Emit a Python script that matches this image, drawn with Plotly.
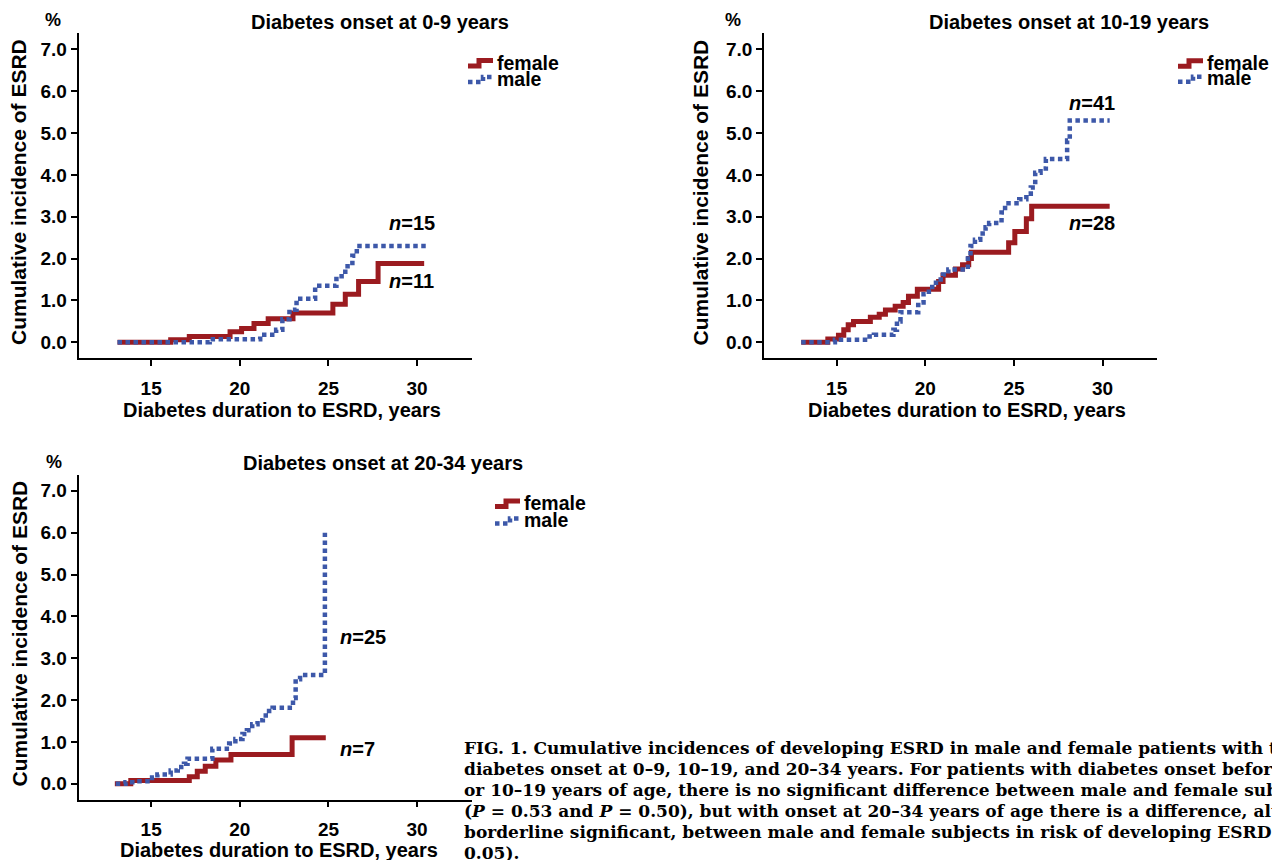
import plotly.graph_objects as go

# ---------------- data ----------------
ticks_x = [15, 20, 25, 30]
ticks_y = [0, 1, 2, 3, 4, 5, 6, 7]
ticks_y_text = ["0.0", "1.0", "2.0", "3.0", "4.0", "5.0", "6.0", "7.0"]

titles = ["Diabetes onset at 0-9 years", "Diabetes onset at 10-19 years", "Diabetes onset at 20-34 years"]
n_female = [11, 28, 7]
n_male = [15, 41, 25]

# onset 0-9 years
f1_x = [13.1, 16.1, 17.15, 19.45, 20.1, 20.8, 21.6, 23.0, 25.25, 25.95, 26.7, 27.8, 30.4]
f1_y = [0.0, 0.06, 0.14, 0.25, 0.33, 0.45, 0.56, 0.70, 0.91, 1.15, 1.45, 1.88, 1.88]
m1_x = [13.1, 18.3, 21.15, 22.05, 22.4, 22.8, 23.2, 24.25, 25.45, 25.95, 26.35, 26.6, 30.6]
m1_y = [0.0, 0.07, 0.18, 0.30, 0.55, 0.78, 1.04, 1.35, 1.58, 1.82, 2.07, 2.30, 2.30]

# onset 10-19 years
f2_x = [13.0, 14.5, 15.1, 15.4, 15.65, 15.95, 16.9, 17.4, 17.75, 18.3, 18.75, 19.05, 19.55,
        20.75, 21.0, 21.7, 22.1, 22.45, 22.6, 24.7, 25.05, 25.7, 26.0, 30.4]
f2_y = [0.0, 0.08, 0.17, 0.30, 0.42, 0.50, 0.60, 0.67, 0.77, 0.86, 0.95, 1.10, 1.27,
        1.45, 1.60, 1.75, 1.85, 2.00, 2.15, 2.38, 2.65, 2.95, 3.25, 3.25]
m2_x = [13.0, 14.9, 16.6, 17.1, 18.2, 18.4, 18.6, 19.6, 19.9, 20.2, 20.6, 21.0, 21.3, 22.4,
        22.55, 22.8, 23.1, 23.4, 23.6, 24.3, 24.5, 25.3, 25.7, 25.95, 26.2, 26.5, 26.8,
        28.0, 28.15, 30.4]
m2_y = [0.0, 0.06, 0.14, 0.18, 0.30, 0.50, 0.72, 0.95, 1.15, 1.32, 1.50, 1.62, 1.74, 2.00,
        2.30, 2.45, 2.60, 2.75, 2.85, 3.10, 3.32, 3.42, 3.55, 3.70, 4.05, 4.15, 4.38,
        4.82, 5.30, 5.30]

# onset 20-34 years
f3_x = [12.95, 13.85, 17.15, 17.6, 18.05, 18.65, 19.5, 22.95, 24.85]
f3_y = [0.0, 0.08, 0.17, 0.30, 0.42, 0.57, 0.70, 1.10, 1.10]
m3_x = [13.0, 13.55, 14.1, 15.05, 15.35, 16.1, 16.5, 16.85, 17.05, 18.45, 19.4, 19.75, 20.15,
        20.4, 20.7, 21.0, 21.3, 21.65, 21.85, 23.0, 23.15, 23.4, 24.8]
m3_y = [0.0, 0.04, 0.06, 0.15, 0.22, 0.32, 0.40, 0.48, 0.60, 0.84, 0.96, 1.07, 1.19,
        1.28, 1.42, 1.52, 1.63, 1.74, 1.82, 2.05, 2.50, 2.60, 6.00]

caption_lines = [
    "FIG. 1. Cumulative incidences of developing ESRD in male and female patients with type 1",
    "diabetes onset at 0\u20139, 10\u201319, and 20\u201334 years. For patients with diabetes onset before age 10",
    "or 10\u201319 years of age, there is no significant difference between male and female subjects",
    "(<i>P</i> = 0.53 and <i>P</i> = 0.50), but with onset at 20\u201334 years of age there is a difference, although",
    "borderline significant, between male and female subjects in risk of developing ESRD (<i>P</i> =",
    "0.05).",
]

# ---------------- styling ----------------
OFF = 8                      # the page body margin shifts the figure by 8 px
W, H = 1280 - OFF, 860 - OFF
FONT = "Liberation Sans, Arial, Helvetica, sans-serif"
SERIF = "DejaVu Serif, serif"
RED = "#9B1B20"
BLUE = "#3D58A9"
XR = [10.9, 33.07]
YR = [-0.375, 7.39]


def pxx(x):
    return (x - OFF) / W


def pxy(y):
    return 1 - (y - OFF) / H


# panel pixel boxes in screen pixels: (left, right, top, bottom)
boxes = [(78.5, 471.5, 33, 358), (764, 1157, 33, 358), (78.5, 471.5, 474.5, 799.5)]

fig = go.Figure()

series = [(f1_x, f1_y, m1_x, m1_y), (f2_x, f2_y, m2_x, m2_y), (f3_x, f3_y, m3_x, m3_y)]
for i, (fx, fy, mx, my) in enumerate(series):
    sfx = "" if i == 0 else str(i + 1)
    fig.add_trace(go.Scatter(x=fx, y=fy, mode="lines", line=dict(color=RED, width=5, shape="hv"),
                             name="female", showlegend=False, xaxis="x" + sfx, yaxis="y" + sfx))
    fig.add_trace(go.Scatter(x=mx, y=my, mode="lines",
                             line=dict(color=BLUE, width=4.5, shape="hv", dash="4.5px,3.5px"),
                             name="male", showlegend=False, xaxis="x" + sfx, yaxis="y" + sfx))

tickfont = dict(family=FONT, size=19, color="black", weight="bold")
layout = dict(width=W, height=H, margin=dict(l=0, r=0, t=0, b=0),
              paper_bgcolor="white", plot_bgcolor="white", showlegend=False)
for i, (l, r, t, b) in enumerate(boxes):
    sfx = "" if i == 0 else str(i + 1)
    layout["xaxis" + sfx] = dict(domain=[pxx(l), pxx(r)], range=XR, anchor="y" + sfx,
                                 tickvals=ticks_x, showline=True, linecolor="black", linewidth=1.5,
                                 ticks="outside", ticklen=6, tickwidth=1.5, tickcolor="black",
                                 showgrid=False, zeroline=False, tickfont=tickfont,
                                 ticklabelstandoff=6)
    layout["yaxis" + sfx] = dict(domain=[pxy(b), pxy(t)], range=YR, anchor="x" + sfx,
                                 tickvals=ticks_y, ticktext=ticks_y_text, showline=True,
                                 linecolor="black", linewidth=1.5, ticks="outside", ticklen=6,
                                 tickwidth=1.5, tickcolor="black", showgrid=False,
                                 zeroline=False, tickfont=tickfont)
fig.update_layout(**layout)

ann = []
shapes = []


def text(x, y, s, size=20, xanchor="center", angle=0, family=FONT, weight="bold"):
    ann.append(dict(x=pxx(x), y=pxy(y), xref="paper", yref="paper", text=s, showarrow=False,
                    xanchor=xanchor, yanchor="middle", textangle=angle,
                    font=dict(family=family, size=size, color="black", weight=weight)))


# panel titles, % signs, axis titles
title_pos = [(380, 22), (1068.5, 22), (383, 463)]
pct_pos = [(52.7, 20), (733, 20), (53.5, 462)]
ytitle_pos = [(18.5, 192.5), (700, 192.5), (18.5, 634)]
xtitle_pos = [(281.7, 410), (967, 410), (279, 849.5)]
for i in range(3):
    text(*title_pos[i], titles[i], size=20)
    text(*pct_pos[i], "%", size=18)
    text(*ytitle_pos[i], "Cumulative incidence of ESRD", size=21, angle=-90)
    text(*xtitle_pos[i], "Diabetes duration to ESRD, years", size=20)

# n labels (data coordinates)
n_pos = [((28.3, 2.84), (28.3, 1.46)), ((27.97, 5.72), (27.97, 2.85)), ((25.55, 3.5), (25.55, 0.84))]
for i in range(3):
    sfx = "" if i == 0 else str(i + 1)
    (xm, ym), (xf, yf) = n_pos[i]
    for (xx, yy, n) in [(xm, ym, n_male[i]), (xf, yf, n_female[i])]:
        ann.append(dict(x=xx, y=yy, xref="x" + sfx, yref="y" + sfx, text="<i>n</i>=%d" % n,
                        showarrow=False, xanchor="left", yanchor="middle",
                        font=dict(family=FONT, size=20, color="black", weight="bold")))

# custom legends (step-shaped glyphs)
legend_pos = [(495, 62.5, 78.5), (1205, 62.7, 78.3), (522, 503, 520)]
for (T, yf, ym) in legend_pos:
    text(T, yf, "female", size=19.5, xanchor="left")
    text(T, ym, "male", size=19.5, xanchor="left")
    pf = "M %f,%f L %f,%f L %f,%f L %f,%f" % (
        pxx(T - 27), pxy(yf + 3.5), pxx(T - 16), pxy(yf + 3.5), pxx(T - 16), pxy(yf - 2), pxx(T - 2), pxy(yf - 2))
    pm = "M %f,%f L %f,%f L %f,%f L %f,%f" % (
        pxx(T - 27), pxy(ym + 3.5), pxx(T - 12), pxy(ym + 3.5), pxx(T - 12), pxy(ym - 1.5), pxx(T - 2), pxy(ym - 1.5))
    shapes.append(dict(type="path", path=pf, xref="paper", yref="paper",
                       line=dict(color=RED, width=5)))
    shapes.append(dict(type="path", path=pm, xref="paper", yref="paper",
                       line=dict(color=BLUE, width=4.5, dash="4.5px,3.5px")))

# caption
cap_y = [748, 769, 790, 811, 832, 853]
for s, y in zip(caption_lines, cap_y):
    text(462, y, s, size=17, xanchor="left", family=SERIF)

fig.update_layout(annotations=ann, shapes=shapes)
fig.write_html("out.html")
